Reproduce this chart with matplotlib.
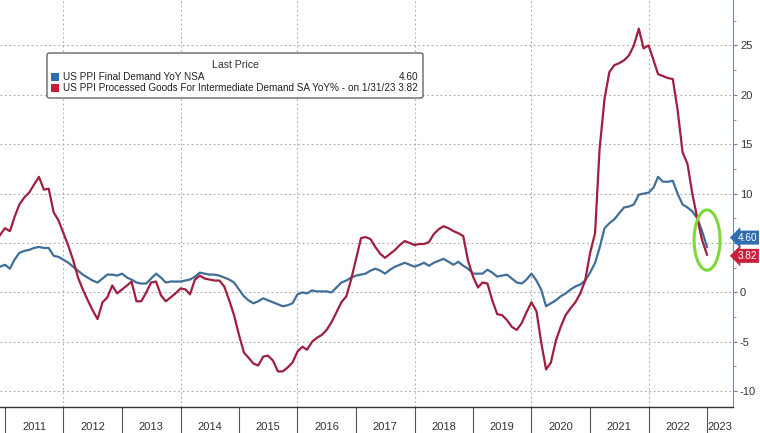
import matplotlib
matplotlib.use("Agg")
import matplotlib.pyplot as plt
import matplotlib.dates as mdates
import matplotlib.transforms as mtransforms
from matplotlib.patches import Ellipse, FancyBboxPatch, Rectangle
import pandas as pd

# monthly data, Dec 2010 .. Jan 2023
dates = pd.date_range("2010-12-01", periods=146, freq="MS")

final_demand = [
    2.6, 2.8, 2.4, 3.3, 4.0, 4.2, 4.3, 4.5, 4.6, 4.5, 4.5, 3.7, 3.6,
    3.3, 3.0, 2.6, 2.2, 1.8, 1.5, 1.2, 1.0, 1.4, 1.8, 1.8, 1.7,
    1.9, 1.5, 1.3, 1.0, 0.9, 0.9, 1.4, 1.9, 1.5, 1.0, 1.1, 1.1,
    1.1, 1.2, 1.3, 1.6, 2.0, 1.9, 1.8, 1.8, 1.7, 1.5, 1.3, 1.0,
    0.3, -0.4, -0.8, -1.1, -0.9, -0.6, -0.8, -1.0, -1.2, -1.4, -1.3, -1.1,
    -0.2, 0.0, -0.1, 0.2, 0.1, 0.1, 0.1, 0.0, 0.5, 1.0, 1.2, 1.5,
    1.7, 1.8, 1.9, 2.2, 2.4, 2.2, 1.9, 2.3, 2.6, 2.8, 3.0, 2.8,
    2.6, 2.8, 3.0, 2.7, 3.0, 3.2, 3.4, 3.1, 2.8, 3.1, 2.7, 2.4,
    1.9, 1.9, 1.9, 2.3, 2.0, 1.6, 1.7, 1.8, 1.4, 1.0, 0.9, 1.3,
    1.9, 1.2, 0.3, -1.4, -1.1, -0.8, -0.4, -0.1, 0.3, 0.6, 0.8, 1.2,
    2.0, 3.0, 4.5, 6.5, 7.0, 7.4, 8.0, 8.6, 8.7, 8.9, 9.9, 10.0,
    10.1, 10.6, 11.7, 11.2, 11.2, 11.3, 10.0, 8.9, 8.6, 8.2, 7.5, 6.2,
    4.6,
]

processed_goods = [
    5.8, 6.5, 6.2, 7.6, 8.9, 9.6, 10.1, 10.9, 11.7, 10.4, 10.5, 8.1, 7.3,
    6.0, 4.7, 3.3, 1.5, 0.3, -0.8, -1.8, -2.7, -1.0, -0.5, 0.7, -0.1,
    0.3, 0.7, 1.1, -0.9, -0.9, 0.0, 1.0, 1.1, -0.3, -0.9, -0.5, -0.1,
    0.4, 0.3, -0.2, 1.3, 1.7, 1.4, 1.3, 1.2, 1.2, 0.6, -0.8, -2.3,
    -4.3, -6.1, -6.6, -7.2, -7.4, -6.5, -6.4, -6.9, -8.0, -8.0, -7.6, -7.1,
    -6.0, -5.5, -5.8, -5.0, -4.6, -4.3, -3.8, -3.0, -2.0, -1.0, -0.4, 1.3,
    3.4, 5.5, 5.6, 5.4, 4.6, 3.9, 3.5, 3.9, 4.3, 4.8, 5.2, 5.0,
    4.8, 4.9, 4.9, 5.1, 5.9, 6.4, 6.7, 6.5, 6.2, 6.0, 5.7, 3.2,
    1.6, 0.5, 1.0, 0.9, -0.8, -2.2, -2.3, -2.8, -3.5, -3.8, -3.1, -2.0,
    -1.0, -1.9, -5.0, -7.8, -7.1, -4.9, -3.5, -2.3, -1.6, -1.0, -0.1, 1.2,
    4.0, 6.0, 14.5, 19.6, 22.3, 23.0, 23.2, 23.5, 24.0, 25.0, 26.7, 24.7,
    25.0, 23.5, 22.1, 21.9, 21.7, 21.6, 18.5, 14.2, 13.0, 10.0, 7.5, 5.3,
    3.82,
]

last_final = 4.60
last_processed = 3.82
years = list(range(2011, 2024))
y_ticks = [-10, -5, 0, 5, 10, 15, 20, 25]

BLUE = "#3f6f98"
RED = "#9e1f3e"
W, H = 760, 433
LEG_FS = 7.2


def fx(px):
    return px / W


def fy(py):
    return 1 - py / H


plt.rcParams["font.family"] = ["Liberation Sans", "DejaVu Sans"]

fig = plt.figure(figsize=(7.6, 4.33), dpi=100)
ax = fig.add_axes([0, fy(407), fx(733), 407 / H])

ax.plot(dates, final_demand, color=BLUE, lw=1.6, zorder=3)
ax.plot(dates, processed_goods, color=RED, lw=1.6, zorder=3)

ax.set_xlim(pd.Timestamp("2010-12-01"), pd.Timestamp("2023-06-12"))
ax.set_ylim(-11.6, 29.6)

# grid
for v in y_ticks:
    ax.axhline(v, color="#a8a8a8", lw=0.8, ls=(0, (1.5, 2.5)), zorder=1)
for yr in range(2012, 2023, 2):
    ax.axvline(pd.Timestamp(f"{yr}-01-01"), color="#a8a8a8", lw=0.8,
               ls=(0, (1.5, 2.5)), zorder=1)

# x axis: long separators at year starts, labels in the middle
ax.set_xticks([pd.Timestamp(f"{y}-01-01") for y in years])
ax.set_xticklabels([])
mids = [pd.Timestamp(f"{y}-07-02") for y in years[:-1]] + [pd.Timestamp("2023-03-22")]
ax.set_xticks(mids, minor=True)
ax.set_xticklabels([str(y) for y in years], minor=True)
ax.tick_params(axis="x", which="major", direction="out", length=19,
               width=0.8, color="#555555")
ax.tick_params(axis="x", which="minor", length=0, pad=11,
               labelsize=8, labelcolor="#333333")

# y axis on the right; the "5" label sits under the price tags
ax.yaxis.tick_right()
ax.set_yticks(y_ticks)
ax.set_yticklabels(["" if v == 5 else str(v) for v in y_ticks])
ax.set_yticks([v + 2.5 for v in y_ticks] + [-12.5 + 2.5], minor=True)
ax.tick_params(axis="y", which="major", direction="out", length=3,
               width=0.8, color="#6f8090", pad=2, labelsize=8,
               labelcolor="#333333")
ax.tick_params(axis="y", which="minor", direction="out", length=2,
               width=0.6, color="#6f8090")

for s in ("top", "left"):
    ax.spines[s].set_visible(False)
ax.spines["right"].set_color("#7b8b9b")
ax.spines["bottom"].set_color("#333333")
ax.spines["bottom"].set_linewidth(1.0)

# green ellipse around last points
ell = Ellipse((mdates.date2num(pd.Timestamp("2023-01-01")), 5.3),
              width=162, height=6.1, fill=False, ec="#7fd83a", lw=2.2,
              zorder=5)
ax.add_patch(ell)

# last price tags
trans = mtransforms.blended_transform_factory(ax.transAxes, ax.transData)
ax.text(1.006, 5.55, f"{last_final:.2f}", transform=trans, color="white",
        fontsize=7.2, va="center", ha="left", clip_on=False, zorder=6,
        bbox=dict(boxstyle="larrow,pad=0.2", fc="#2f6db0", ec="none"))
ax.text(1.006, 3.7, f"{last_processed:.2f}", transform=trans, color="white",
        fontsize=7.2, va="center", ha="left", clip_on=False, zorder=7,
        bbox=dict(boxstyle="larrow,pad=0.2", fc="#c8203c", ec="none"))

# legend box
box = FancyBboxPatch((fx(47), fy(98)), fx(423) - fx(47), fy(53) - fy(98),
                     boxstyle="round,pad=0,rounding_size=0.004",
                     transform=fig.transFigure, fc="white", ec="#555555",
                     lw=0.9, zorder=10)
fig.add_artist(box)
fig.text(fx(235), fy(65), "Last Price", ha="center", va="center",
         fontsize=LEG_FS + 0.4, color="#333333", zorder=11)
fig.add_artist(Rectangle((fx(51), fy(81)), fx(8), 8 / H,
                         transform=fig.transFigure, fc="#2f6eae", ec="none",
                         zorder=11))
fig.add_artist(Rectangle((fx(51), fy(92)), fx(8), 8 / H,
                         transform=fig.transFigure, fc="#c41e3a", ec="none",
                         zorder=11))
fig.text(fx(63), fy(77), "US PPI Final Demand YoY NSA", ha="left",
         va="center", fontsize=LEG_FS, color="#222222", zorder=11)
fig.text(fx(418), fy(77), f"{last_final:.2f}", ha="right", va="center",
         fontsize=LEG_FS, color="#222222", zorder=11)
fig.text(fx(63), fy(88),
         "US PPI Processed Goods For Intermediate Demand SA YoY% -",
         ha="left", va="center", fontsize=LEG_FS, color="#222222", zorder=11)
fig.text(fx(418), fy(88), f"on 1/31/23 {last_processed:.2f}", ha="right",
         va="center", fontsize=LEG_FS, color="#222222", zorder=11)

fig.savefig("out.png", dpi=100)
